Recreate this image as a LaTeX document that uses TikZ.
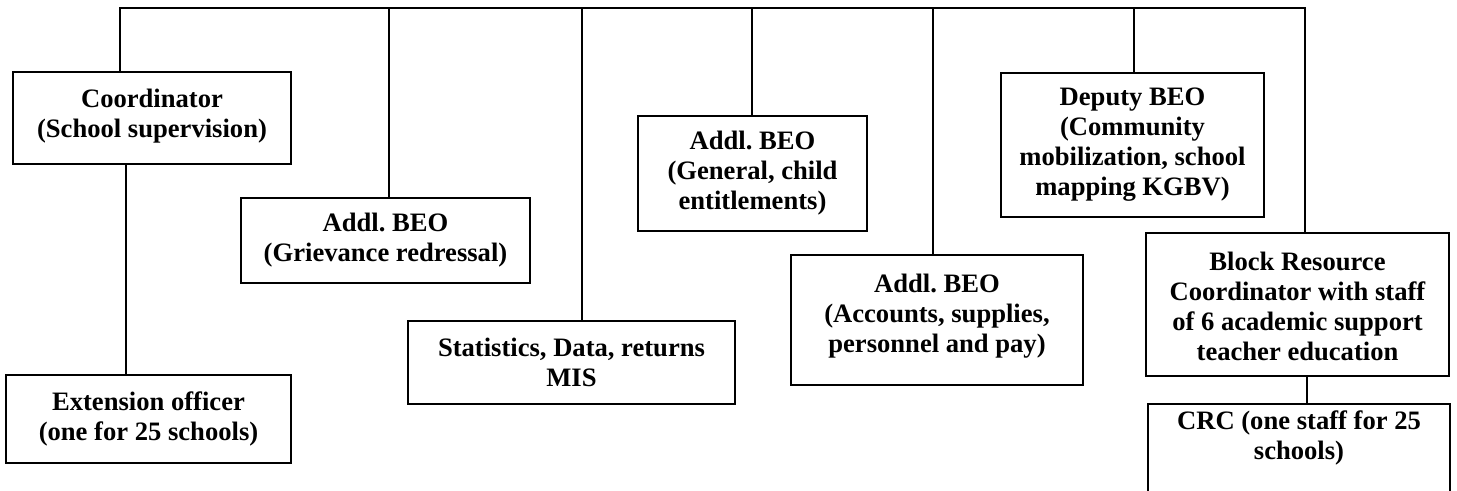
\documentclass[tikz,border=0pt]{standalone}
\usepackage{fontspec}
\setmainfont{Liberation Serif}
\frenchspacing
\begin{document}
\begin{tikzpicture}[x=0.5pt,y=-0.5pt,
  box/.style={draw,line width=0.65pt,rectangle,inner sep=0pt},
  txt/.style={inner sep=0pt,align=center,font=\bfseries\fontsize{13.3}{15}\selectfont},
  conn/.style={line width=0.65pt}]
\clip (0,0) rectangle (1457,491);
% boxes
\node[box,minimum width=278*0.5pt,minimum height=92*0.5pt] (coord) at (152,118) {};
\node[txt] at ([yshift=1pt]coord.center) {Coordinator\\(School supervision)};
\node[box,minimum width=285*0.5pt,minimum height=88*0.5pt] (ext) at (148.5,419) {};
\node[txt] at (ext.center) {Extension officer\\(one for 25 schools)};
\node[box,minimum width=289*0.5pt,minimum height=85*0.5pt] (griev) at (385.5,240.5) {};
\node[txt] at (griev.center) {Addl. BEO\\(Grievance redressal)};
\node[box,minimum width=327*0.5pt,minimum height=83*0.5pt] (stats) at (571.5,362.5) {};
\node[txt] at (stats.center) {Statistics, Data, returns\\MIS};
\node[box,minimum width=229*0.5pt,minimum height=115*0.5pt] (gen) at (752.5,173.5) {};
\node[txt] at (gen.center) {Addl. BEO\\(General, child\\entitlements)};
\node[box,minimum width=292*0.5pt,minimum height=130*0.5pt] (acct) at (937,320) {};
\node[txt] at ([yshift=2pt]acct.center) {Addl. BEO\\(Accounts, supplies,\\personnel and pay)};
\node[box,minimum width=263*0.5pt,minimum height=144*0.5pt] (dep) at (1132.5,145) {};
\node[txt] at (dep.center) {Deputy BEO\\(Community\\mobilization, school\\mapping KGBV)};
\node[box,minimum width=303*0.5pt,minimum height=143*0.5pt] (brc) at (1297.5,304.5) {};
\node[txt] at ([yshift=-1pt]brc.center) {Block Resource\\Coordinator with staff\\of 6 academic support\\teacher education};
\node[box,minimum width=302*0.5pt,minimum height=96*0.5pt] (crc) at (1299,452) {};
\node[txt] at (1299,438) {CRC (one staff for 25\\schools)};
% bus coordinates
\coordinate (bl) at (120,8);
\coordinate (br) at (1305,8);
\coordinate (b2) at (389,8);
\coordinate (b3) at (582,8);
\coordinate (b4) at (752,8);
\coordinate (b5) at (933,8);
\coordinate (b6) at (1134,8);
\coordinate (xe) at (126,0);
\coordinate (xc) at (1307,0);
% connectors
\draw[conn] (coord.north -| bl) -- (bl) -- (br) -- (br |- brc.north);
\draw[conn] (b2) -- (b2 |- griev.north);
\draw[conn] (b3) -- (b3 |- stats.north);
\draw[conn] (b4) -- (b4 |- gen.north);
\draw[conn] (b5) -- (b5 |- acct.north);
\draw[conn] (b6) -- (b6 |- dep.north);
\draw[conn] (coord.south -| xe) -- (ext.north -| xe);
\draw[conn] (brc.south -| xc) -- (crc.north -| xc);
\end{tikzpicture}
\end{document}
